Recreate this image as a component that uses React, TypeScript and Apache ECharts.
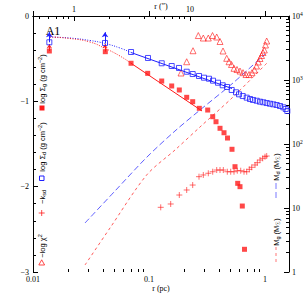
import React, { useEffect, useRef } from "react";
import * as echarts from "echarts";

const BLUE = "#1f1fff";
const RED = "#ff1a1a";
const PC_PER_ARCSEC = 0.02257;
const R_MIN = 0.01;
const R_MAX = 1.61;

// axis ticks
const xMajor = [0.01, 0.1, 1];
const xMinor = [0.02, 0.03, 0.04, 0.05, 0.06, 0.07, 0.08, 0.09, 0.2, 0.3, 0.4, 0.5, 0.6, 0.7, 0.8, 0.9];
const arcMajor = [1, 10];
const arcMinor = [0.5, 0.6, 0.7, 0.8, 0.9, 2, 3, 4, 5, 6, 7, 8, 9, 20, 30, 40, 50, 60, 70];
const mMajor = [1, 10, 100, 1000, 10000];
const mMinor = [2, 3, 4, 5, 6, 7, 8, 9, 20, 30, 40, 50, 60, 70, 80, 90, 200, 300, 400, 500, 600, 700, 800, 900, 2000, 3000, 4000, 5000, 6000, 7000, 8000, 9000];

// log Sigma_d (blue open squares)
const sdR = [0.01383, 0.04176, 0.0700, 0.0980, 0.1287, 0.1569, 0.1814, 0.2113, 0.2380, 0.2698, 0.2979, 0.3291, 0.3563, 0.3934, 0.4318, 0.4704, 0.5163, 0.5623, 0.5970, 0.6425, 0.6954, 0.7425, 0.7882, 0.8481, 0.9055, 0.9667, 1.034, 1.104, 1.179, 1.261, 1.347, 1.438, 1.508, 1.557];
const sdV = [-0.308, -0.316, -0.422, -0.492, -0.554, -0.586, -0.609, -0.653, -0.680, -0.703, -0.723, -0.735, -0.758, -0.782, -0.812, -0.832, -0.867, -0.894, -0.918, -0.938, -0.957, -0.973, -0.984, -0.993, -1.004, -1.011, -1.020, -1.028, -1.035, -1.043, -1.055, -1.070, -1.090, -1.113];

// log Sigma_g (red filled squares)
const sgR = [0.01383, 0.04201, 0.0700, 0.0974, 0.1287, 0.1569, 0.1825, 0.2113, 0.2380, 0.2714, 0.3206, 0.3541, 0.3781, 0.4094, 0.4432, 0.4751, 0.5194, 0.5512, 0.5816, 0.6088, 0.6372, 0.6657];
const sgV = [-0.410, -0.418, -0.554, -0.672, -0.762, -0.820, -0.867, -0.953, -1.004, -1.082, -1.102, -1.180, -1.239, -1.316, -1.368, -1.430, -1.562, -1.766, -1.961, -2.000, -2.227, -2.734];

// -log chi^2 (red open triangles)
const chiR = [0.1888, 0.2113, 0.2395, 0.2661, 0.2938, 0.3245, 0.3527, 0.3834, 0.4094, 0.4345, 0.4676, 0.4895, 0.5143, 0.5405, 0.5735, 0.6088, 0.6462, 0.6859, 0.7280, 0.7726, 0.8118, 0.8446, 0.8753, 0.9055, 0.9328, 0.9612, 0.9863, 1.010, 1.034];
const chiV = [-0.668, -0.536, -0.407, -0.229, -0.258, -0.258, -0.229, -0.246, -0.299, -0.410, -0.496, -0.536, -0.568, -0.613, -0.627, -0.645, -0.664, -0.686, -0.686, -0.664, -0.633, -0.586, -0.539, -0.498, -0.463, -0.428, -0.398, -0.340, -0.293];

// -k_sd (red pluses)
const kR = [0.1262, 0.1538, 0.1825, 0.2113, 0.2380, 0.2698, 0.2938, 0.3245, 0.3541, 0.3834, 0.4094, 0.4371, 0.4732, 0.5062, 0.5405, 0.5770, 0.6173, 0.6592, 0.6954, 0.7323, 0.7680, 0.8199, 0.8583, 0.9055, 0.9554, 1.0, 1.034];
const kV = [-2.242, -2.203, -2.098, -2.039, -1.981, -1.883, -1.863, -1.843, -1.825, -1.805, -1.805, -1.805, -1.825, -1.825, -1.825, -1.813, -1.813, -1.825, -1.825, -1.797, -1.773, -1.746, -1.719, -1.688, -1.668, -1.649, -1.641];

// cumulative masses (right axis)
const mdR = [0.02807, 0.0509, 0.0961, 0.1675, 0.2753, 0.5298, 1.0];
const mdV = [5.83, 18.44, 62.6, 159.7, 339.8, 897.6, 2549];
const mgR = [0.02807, 0.0461, 0.0955, 0.1675, 0.2753, 0.5298, 1.034];
const mgV = [1.286, 4.87, 32.8, 80.6, 184.5, 542, 1824];

// model curves
const fitDInR = [0.01401, 0.02085, 0.0310, 0.04176, 0.05623, 0.0700];
const fitDInV = [-0.246, -0.258, -0.287, -0.322, -0.375, -0.428];
const fitDOutR = [0.0700, 0.5194];
const fitDOutV = [-0.428, -0.850];
const fitGInR = [0.01401, 0.02085, 0.0310, 0.04176, 0.05623, 0.0700];
const fitGInV = [-0.246, -0.264, -0.305, -0.379, -0.469, -0.554];
const fitGOutR = [0.0700, 0.2863];
const fitGOutV = [-0.554, -1.113];

// lower-limit arrows: r, from, to
const arrowR = [0.01383, 0.04176];
const arrowDFrom = [-0.308, -0.316];
const arrowDTo = [-0.19, -0.19];
const arrowGFrom = [-0.41, -0.418];
const arrowGTo = [-0.33, -0.33];

const zip = (a: number[], b: number[]) => a.map((v, i) => [v, b[i]]);

const SERIF = "Liberation Serif";
const SANS = "Liberation Sans";

const richSub = {
  sub: { fontSize: 5.5, verticalAlign: "bottom", lineHeight: 10, fontFamily: SANS, fill: "#000" },
  sup: { fontSize: 5.5, verticalAlign: "top", lineHeight: 10, fontFamily: SANS, fill: "#000" },
};

const vtext = (x: number, y: number, text: string) => ({
  type: "text",
  x,
  y,
  rotation: Math.PI / 2,
  silent: true,
  style: {
    text,
    fill: "#000",
    fontSize: 7.5,
    fontFamily: SANS,
    align: "center",
    verticalAlign: "middle",
    rich: richSub,
  },
});

const expLabel = (v: number) => {
  const e = Math.round(Math.log10(v));
  if (e === 0) return "1";
  if (e === 1) return "10";
  return "10{sup|" + e + "}";
};

export default function App() {
  const ref = useRef<HTMLDivElement>(null);
  useEffect(() => {
    if (!ref.current) return;
    const chart = echarts.init(ref.current, undefined, { renderer: "svg" });
    const axisLine = { show: true, lineStyle: { color: "#000", width: 1 } };
    const lbl = { fontFamily: SERIF, fontSize: 8, color: "#000" };
    const option: any = {
      animation: false,
      backgroundColor: "#fff",
      grid: { left: 33, right: 16, top: 16, bottom: 33, containLabel: false, outerBoundsMode: "none" },
      xAxis: [
        {
          type: "log", position: "bottom", min: R_MIN, max: R_MAX,
          axisLine, splitLine: { show: false },
          axisTick: { show: true, inside: true, length: 5, customValues: xMajor, lineStyle: { color: "#000" } },
          axisLabel: { ...lbl, margin: 3, customValues: xMajor, formatter: (v: number) => { const e = Math.round(Math.log10(v)); return e === -2 ? "0.01" : e === -1 ? "0.1" : "1"; } },
          name: "r (pc)", nameLocation: "middle", nameGap: 12, nameMoveOverlap: false,
          nameTextStyle: { fontFamily: SERIF, fontSize: 8, color: "#000" },
        },
        {
          type: "log", position: "bottom", min: R_MIN, max: R_MAX,
          axisLine: { show: false }, splitLine: { show: false },
          axisTick: { show: true, inside: true, length: 3, customValues: xMinor, lineStyle: { color: "#000" } },
          axisLabel: { show: false },
        },
        {
          type: "log", position: "top", min: R_MIN / PC_PER_ARCSEC, max: R_MAX / PC_PER_ARCSEC,
          axisLine, splitLine: { show: false },
          axisTick: { show: true, inside: true, length: 5, customValues: arcMajor, lineStyle: { color: "#000" } },
          axisLabel: { ...lbl, margin: 3, customValues: arcMajor, formatter: (v: number) => (Math.round(Math.log10(v)) === 0 ? "1" : "10") },
          name: "r (″)", nameLocation: "middle", nameGap: 6, nameMoveOverlap: false,
          nameTextStyle: { fontFamily: SERIF, fontSize: 8, color: "#000" },
        },
        {
          type: "log", position: "top", min: R_MIN / PC_PER_ARCSEC, max: R_MAX / PC_PER_ARCSEC,
          axisLine: { show: false }, splitLine: { show: false },
          axisTick: { show: true, inside: true, length: 3, customValues: arcMinor, lineStyle: { color: "#000" } },
          axisLabel: { show: false },
        },
      ],
      yAxis: [
        {
          type: "value", position: "left", min: -3, max: 0, interval: 1,
          axisLine, splitLine: { show: false },
          axisTick: { show: true, inside: true, length: 5, lineStyle: { color: "#000" } },
          minorTick: { show: true, splitNumber: 5, length: 3, lineStyle: { color: "#000" } },
          minorSplitLine: { show: false },
          axisLabel: { ...lbl, margin: 4, formatter: (v: number) => (v === 0 ? "0" : "−" + Math.abs(v)) },
        },
        {
          type: "log", position: "right", min: 1, max: 10000,
          axisLine, splitLine: { show: false },
          axisTick: { show: true, inside: true, length: 5, customValues: mMajor, lineStyle: { color: "#000" } },
          axisLabel: {
            ...lbl, margin: 3, customValues: mMajor, formatter: expLabel,
            rich: { sup: { fontSize: 5.5, fontFamily: SERIF, verticalAlign: "top", lineHeight: 11, color: "#000" } },
          },
        },
        {
          type: "log", position: "right", min: 1, max: 10000,
          axisLine: { show: false }, splitLine: { show: false },
          axisTick: { show: true, inside: true, length: 3, customValues: mMinor, lineStyle: { color: "#000" } },
          axisLabel: { show: false },
        },
      ],
      series: [
        { type: "line", xAxisIndex: 0, yAxisIndex: 1, data: zip(mdR, mdV), showSymbol: false, symbol: "none", smooth: 0.3,
          lineStyle: { color: BLUE, width: 0.9, type: [6, 3], opacity: 0.8 }, z: 2 },
        { type: "line", xAxisIndex: 0, yAxisIndex: 1, data: zip(mgR, mgV), showSymbol: false, symbol: "none", smooth: 0.3,
          lineStyle: { color: RED, width: 0.9, type: [3, 3], opacity: 0.8 }, z: 2 },
        { type: "line", xAxisIndex: 0, yAxisIndex: 0, data: zip(fitDInR, fitDInV), showSymbol: false, symbol: "none", smooth: true,
          lineStyle: { color: BLUE, width: 1, type: [1, 1.5] }, z: 2 },
        { type: "line", xAxisIndex: 0, yAxisIndex: 0, data: zip(fitDOutR, fitDOutV), showSymbol: false, symbol: "none",
          lineStyle: { color: BLUE, width: 1, type: "solid" }, z: 2 },
        { type: "line", xAxisIndex: 0, yAxisIndex: 0, data: zip(fitGInR, fitGInV), showSymbol: false, symbol: "none", smooth: true,
          lineStyle: { color: RED, width: 1, type: [1, 1.5] }, z: 2 },
        { type: "line", xAxisIndex: 0, yAxisIndex: 0, data: zip(fitGOutR, fitGOutV), showSymbol: false, symbol: "none",
          lineStyle: { color: RED, width: 1, type: "solid" }, z: 2 },
        {
          type: "scatter", xAxisIndex: 0, yAxisIndex: 0, data: zip(kR, kV),
          symbol: "path://M5,0 L5,10 M0,5 L10,5", symbolSize: 6,
          itemStyle: { color: "transparent", borderColor: RED, borderWidth: 0.8 }, z: 3,
        },
        {
          type: "scatter", xAxisIndex: 0, yAxisIndex: 0, data: zip(chiR, chiV),
          symbol: "triangle", symbolSize: 6,
          itemStyle: { color: "transparent", borderColor: RED, borderWidth: 0.8 }, z: 3,
        },
        {
          type: "scatter", xAxisIndex: 0, yAxisIndex: 0, data: zip(sgR, sgV),
          symbol: "rect", symbolSize: 5, itemStyle: { color: RED }, z: 4,
          markLine: {
            silent: true, symbol: ["none", "arrow"], symbolSize: 4, label: { show: false },
            lineStyle: { color: RED, width: 1, type: "solid" },
            data: arrowR.map((r, i) => [{ coord: [r, arrowGFrom[i]] }, { coord: [r, arrowGTo[i]] }]),
          },
        },
        {
          type: "scatter", xAxisIndex: 0, yAxisIndex: 0, data: zip(sdR, sdV),
          symbol: "rect", symbolSize: 5,
          itemStyle: { color: "transparent", borderColor: BLUE, borderWidth: 1 }, z: 5,
          markLine: {
            silent: true, symbol: ["none", "arrow"], symbolSize: 5, label: { show: false },
            lineStyle: { color: BLUE, width: 1, type: "solid" },
            data: arrowR.map((r, i) => [{ coord: [r, arrowDFrom[i]] }, { coord: [r, arrowDTo[i]] }]),
          },
        },
      ],
      graphic: [
        { type: "text", x: 53, y: 31, silent: true,
          style: { text: "A1", fill: "#000", fontSize: 12, fontFamily: SERIF, align: "center", verticalAlign: "middle" } },
        vtext(42, 79, "log Σ{sub|g} (g cm{sup|−2})"),
        { type: "rect", silent: true, shape: { x: 39.5, y: 105.5, width: 5, height: 5 }, style: { fill: RED } },
        vtext(42, 147, "log Σ{sub|d} (g cm{sup|−2})"),
        { type: "rect", silent: true, shape: { x: 39.5, y: 176, width: 4.5, height: 4.5 }, style: { fill: "none", stroke: BLUE, lineWidth: 1 } },
        vtext(42, 197, "−k{sub|sd}"),
        { type: "line", silent: true, shape: { x1: 41.7, y1: 210, x2: 41.7, y2: 216 }, style: { stroke: RED, lineWidth: 0.8 } },
        { type: "line", silent: true, shape: { x1: 38.7, y1: 213, x2: 44.7, y2: 213 }, style: { stroke: RED, lineWidth: 0.8 } },
        vtext(42, 246, "−log χ{sup|2}"),
        { type: "polygon", silent: true, shape: { points: [[41.7, 259.8], [44.6, 265], [38.8, 265]] }, style: { fill: "none", stroke: RED, lineWidth: 0.8 } },
        vtext(276, 167, "M{sub|d} (M{sub|☉})"),
        { type: "line", silent: true, shape: { x1: 276, y1: 183, x2: 276, y2: 200 }, style: { stroke: BLUE, lineWidth: 1, lineDash: [6, 3], opacity: 0.6 } },
        vtext(276, 232, "M{sub|g} (M{sub|☉})"),
        { type: "line", silent: true, shape: { x1: 276, y1: 247, x2: 276, y2: 264 }, style: { stroke: RED, lineWidth: 1, lineDash: [3, 3], opacity: 0.6 } },
      ],
    };
    chart.setOption(option);
    return () => chart.dispose();
  }, []);
  return <div ref={ref} style={{ position: "fixed", left: 0, top: 0, width: 305, height: 305 }} />;
}
